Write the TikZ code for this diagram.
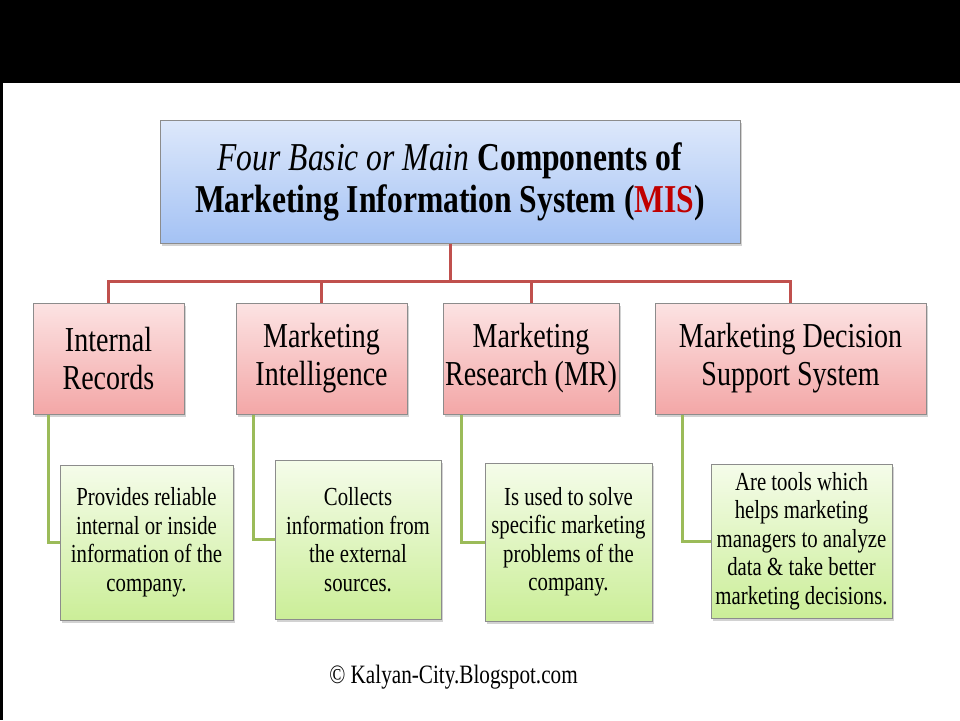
\documentclass[tikz,border=0pt]{standalone}
\usepackage{fontspec}
\setmainfont{Liberation Serif}[FakeStretch=0.8]
\usetikzlibrary{shadows}
\definecolor{topblue}{HTML}{DDE8FB}
\definecolor{botblue}{HTML}{A4C2F4}
\definecolor{toppink}{HTML}{FCE3E3}
\definecolor{botpink}{HTML}{F3A7A7}
\definecolor{topgreen}{HTML}{F5FCEA}
\definecolor{botgreen}{HTML}{CBEE98}
\definecolor{boxborder}{HTML}{8C8C8C}
\definecolor{redline}{HTML}{C0504D}
\definecolor{greenline}{HTML}{9BBB59}
\definecolor{misred}{HTML}{C00000}
\tikzset{
  basebox/.style={draw=boxborder, line width=1pt, rectangle, align=center, inner sep=0pt,
    drop shadow={opacity=0.35, shadow xshift=2pt, shadow yshift=-3pt}},
  titlebox/.style={basebox, top color=topblue, bottom color=botblue,
    font=\fontsize{39.5}{42}\selectfont},
  compbox/.style={basebox, top color=toppink, bottom color=botpink,
    font=\fontsize{35}{38}\selectfont},
  descbox/.style={basebox, top color=topgreen, bottom color=botgreen,
    font=\fontsize{26}{28.5}\selectfont},
  redconn/.style={draw=redline, line width=3pt},
  greenconn/.style={draw=greenline, line width=3pt},
}
\begin{document}
\begin{tikzpicture}[x=1pt,y=-1pt]
\useasboundingbox (0,0) rectangle (960,720);
\fill[white] (0,0) rectangle (960,720);
\fill[black] (0,0) rectangle (960,83);
\fill[black] (0,0) rectangle (3,720);

% title
\node[titlebox, minimum width=580pt, minimum height=123pt] (title) at (450,181.5)
  {\textit{Four Basic or Main} \textbf{Components of}\\
   \textbf{Marketing Information System (\textcolor{misred}{MIS})}};

% component boxes
\node[compbox, minimum width=151pt, minimum height=111pt] (n1) at (108.5,358.5) {Internal\\Records};
\node[compbox, minimum width=171pt, minimum height=111pt] (n2) at (321.5,358.5) {Marketing\\Intelligence};
\node[compbox, minimum width=176pt, minimum height=111pt] (n3) at (531,358.5) {Marketing\\Research (MR)};
\node[compbox, minimum width=271pt, minimum height=111pt] (n4) at (790.5,358.5) {Marketing Decision\\Support System};

% description boxes
\node[descbox, minimum width=173pt, minimum height=155pt] (g1) at (146.5,542.5)
  {Provides reliable\\internal or inside\\information of the\\company.};
\node[descbox, minimum width=166pt, minimum height=159pt] (g2) at (358,539.5)
  {Collects\\information from\\the external\\sources.};
\node[descbox, minimum width=167pt, minimum height=158pt] (g3) at (568.5,542)
  {Is used to solve\\specific marketing\\problems of the\\company.};
\node[descbox, minimum width=181pt, minimum height=154pt] (g4) at (801.5,541)
  {Are tools which\\helps marketing\\managers to analyze\\data \& take better\\marketing decisions.};

% red tree connectors
\coordinate (bus) at (450,281);
\draw[redconn] (title.south) -- (bus);
\draw[redconn] (bus) -| (n1.north);
\draw[redconn] (bus) -| (n2.north);
\draw[redconn] (bus) -| (n3.north);
\draw[redconn] (bus) -| (n4.north);

% green connectors
\coordinate (c1) at ([xshift=16pt]n1.south west);
\coordinate (c2) at ([xshift=18pt]n2.south west);
\coordinate (c3) at ([xshift=19pt]n3.south west);
\coordinate (c4) at ([xshift=28pt]n4.south west);
\draw[greenconn] (c1) |- (g1.west);
\draw[greenconn] (c2) |- (g2.west);
\draw[greenconn] (c3) |- (g3.west);
\draw[greenconn] (c4) |- (g4.west);

% copyright
\node[font=\fontsize{26.5}{30}\selectfont, inner sep=0pt] (copy) at (453.5,677) {© Kalyan-City.Blogspot.com};
\end{tikzpicture}
\end{document}
